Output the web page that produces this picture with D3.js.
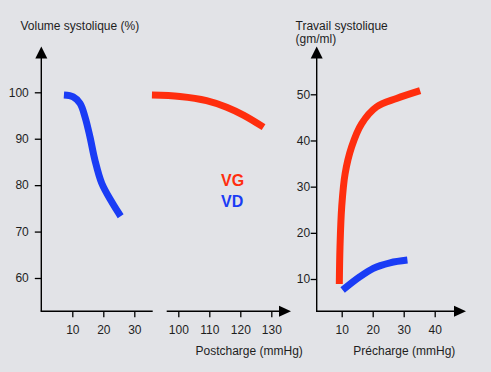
<!DOCTYPE html>
<html>
<head>
<meta charset="utf-8">
<script src="https://cdn.jsdelivr.net/npm/d3@7"></script>
<style>
  body { margin: 0; background: #e2e3e7; }
  svg { display: block; font-family: "Liberation Sans", Arial, sans-serif; }
</style>
</head>
<body>
<div id="chart"></div>
<script>
// Left panel: stroke volume (%) vs afterload
const leftYTicks = [60, 70, 80, 90, 100];
const leftXTicksA = [10, 20, 30];
const leftXTicksB = [100, 110, 120, 130];
// VD (right ventricle), afterload 0-30 mmHg
const vdAfterload = [7.3, 10.3, 12.5, 14.1, 15.7, 17.3, 19.5, 22.7, 25.6];
const vdVolume = [99.4, 99.0, 97.6, 94.7, 90.4, 85.4, 80.4, 76.4, 73.3];
// VG (left ventricle), afterload 100-130 mmHg
const vgAfterload = [91.5, 100.5, 109.1, 115.6, 121.0, 127.5];
const vgVolume = [99.4, 99.1, 98.2, 96.8, 95.1, 92.5];

// Right panel: stroke work vs preload
const rightYTicks = [10, 20, 30, 40, 50];
const rightXTicks = [10, 20, 30, 40];
const vgPreload = [9.23, 9.45, 10.0, 11.1, 13.2, 16.4, 21.3, 27.7, 35.3];
const vgWork = [8.9, 16.9, 25.6, 32.8, 38.6, 43.6, 47.3, 49.1, 50.8];
const vdPreload = [10.3, 15.9, 20.2, 25.6, 31.2];
const vdWork = [7.6, 10.5, 12.3, 13.5, 14.1];

const width = 491, height = 372;
const red = "#ff2e0e", blue = "#1a3cf5";
const textColor = "#1e1e1e";

const svg = d3.select("#chart").append("svg")
  .attr("width", width).attr("height", height);

svg.append("rect").attr("width", width).attr("height", height).attr("fill", "#e2e3e7");

const axisY0 = 311.3;

// Scales
const yL = d3.scaleLinear().domain([60, 100]).range([278, 92.3]);
const xLA = d3.scaleLinear().domain([0, 30]).range([41.3, 134.3]);
const xLB = d3.scaleLinear().domain([100, 130]).range([178.3, 271.3]);
const yR = d3.scaleLinear().domain([10, 50]).range([279, 94.3]);
const xR = d3.scaleLinear().domain([0, 40]).range([310.7, 434.7]);

const line = (xs, ys, sx, sy, curve) => d3.line()
  .x((d, i) => sx(xs[i]))
  .y((d, i) => sy(ys[i]))
  .curve(curve)(xs);

function arrow(x, y, dir) {
  // dir: "up" or "right"; (x, y) = tip
  const p = dir === "up"
    ? [[x, y], [x - 6, y + 12], [x + 6, y + 12]]
    : [[x, y], [x - 12, y - 5.5], [x - 12, y + 5.5]];
  svg.append("path").attr("d", "M" + p.join("L") + "Z").attr("fill", "#000");
}

function styleAxis(g) {
  g.select(".domain").remove();
  g.selectAll("line").attr("stroke", "#000").attr("stroke-width", 1.3);
  g.selectAll("text").attr("fill", textColor).attr("font-size", 12);
}

const axisStroke = (x1, y1, x2, y2) => svg.append("line")
  .attr("x1", x1).attr("y1", y1).attr("x2", x2).attr("y2", y2)
  .attr("stroke", "#000").attr("stroke-width", 1.4);

// ---- Left panel axes
axisStroke(xLA(0), 52, xLA(0), axisY0);
arrow(xLA(0), 46.5, "up");
axisStroke(xLA(0) - 0.7, axisY0, 152.7, axisY0);
axisStroke(166.7, axisY0, 283, axisY0);
arrow(291, axisY0, "right");

svg.append("g").attr("transform", `translate(${xLA(0)},0)`)
  .call(d3.axisLeft(yL).tickValues(leftYTicks).tickSize(6.5).tickPadding(6))
  .call(styleAxis);
svg.append("g").attr("transform", `translate(0,${axisY0})`)
  .call(d3.axisBottom(xLA).tickValues(leftXTicksA).tickSize(6).tickPadding(8))
  .call(styleAxis);
svg.append("g").attr("transform", `translate(0,${axisY0})`)
  .call(d3.axisBottom(xLB).tickValues(leftXTicksB).tickSize(6).tickPadding(8))
  .call(styleAxis);

svg.append("text").attr("x", 20.5).attr("y", 29.5)
  .attr("font-size", 12).attr("fill", textColor).text("Volume systolique (%)");
svg.append("text").attr("x", 195.5).attr("y", 355)
  .attr("font-size", 12).attr("fill", textColor).text("Postcharge (mmHg)");

// ---- Right panel axes
axisStroke(316.7, 52, 316.7, axisY0);
arrow(316.7, 46.5, "up");
axisStroke(316, axisY0, 458, axisY0);
arrow(466, axisY0, "right");

svg.append("g").attr("transform", "translate(316.7,0)")
  .call(d3.axisLeft(yR).tickValues(rightYTicks).tickSize(6).tickPadding(0.5))
  .call(styleAxis);
svg.append("g").attr("transform", `translate(0,${axisY0})`)
  .call(d3.axisBottom(xR).tickValues(rightXTicks).tickSize(6).tickPadding(8))
  .call(styleAxis);

svg.append("text").attr("x", 295.5).attr("y", 29.5)
  .attr("font-size", 12).attr("fill", textColor).text("Travail systolique");
svg.append("text").attr("x", 295.5).attr("y", 43)
  .attr("font-size", 12).attr("fill", textColor).text("(gm/ml)");
svg.append("text").attr("x", 353.3).attr("y", 355)
  .attr("font-size", 12).attr("fill", textColor).text("Précharge (mmHg)");

// ---- Curves
const catmull = d3.curveCatmullRom.alpha(0.5);
const curves = [
  [vdAfterload, vdVolume, xLA, yL, blue, catmull],
  [vgAfterload, vgVolume, xLB, yL, red, d3.curveMonotoneX],
  [vgPreload, vgWork, xR, yR, red, catmull],
  [vdPreload, vdWork, xR, yR, blue, d3.curveMonotoneX],
];
curves.forEach(([xs, ys, sx, sy, c, curve]) => {
  svg.append("path").attr("d", line(xs, ys, sx, sy, curve))
    .attr("fill", "none").attr("stroke", c).attr("stroke-width", 7)
    .attr("stroke-linecap", "butt").attr("stroke-linejoin", "round");
});

// ---- Legend
svg.append("text").attr("x", 221).attr("y", 185.5).attr("font-size", 16)
  .attr("font-weight", "bold").attr("fill", red).text("VG");
svg.append("text").attr("x", 221).attr("y", 206.5).attr("font-size", 16)
  .attr("font-weight", "bold").attr("fill", blue).text("VD");
</script>
</body>
</html>
